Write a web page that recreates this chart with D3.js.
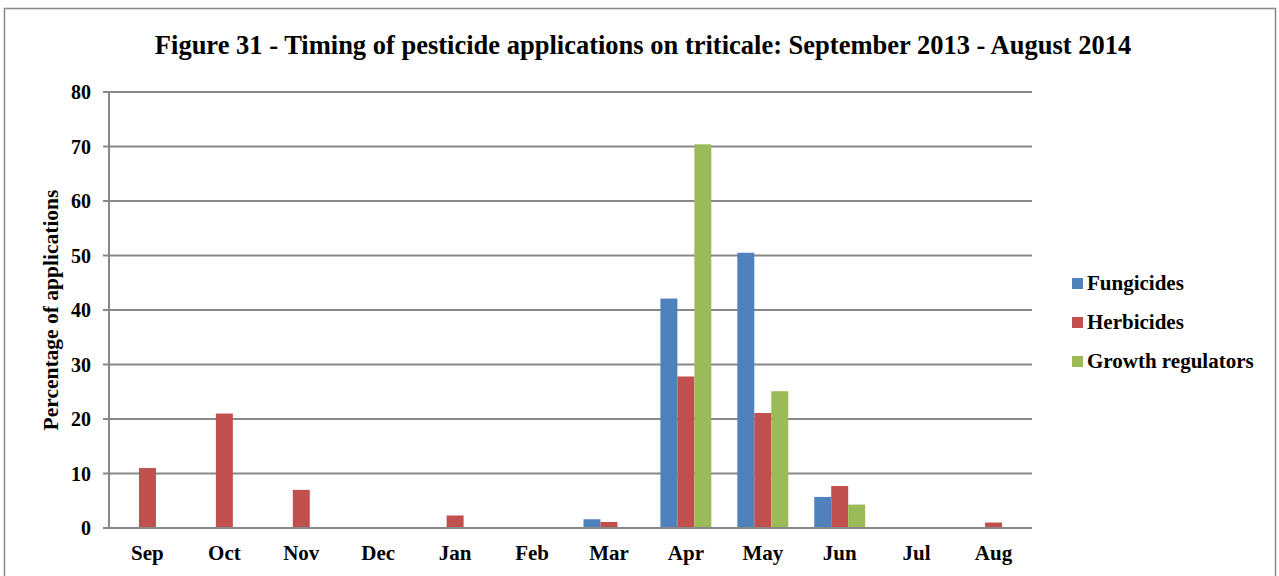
<!DOCTYPE html>
<html><head><meta charset="utf-8">
<script src="https://cdn.jsdelivr.net/npm/d3@7"></script>
<style>body{margin:0;background:#fff}svg{display:block}</style>
</head><body>
<svg id="c" width="1279" height="576"></svg>
<script>
const months = ["Sep","Oct","Nov","Dec","Jan","Feb","Mar","Apr","May","Jun","Jul","Aug"];
const seriesNames = ["Fungicides","Herbicides","Growth regulators"];
const fungicides = [0,0,0,0,0,0,1.6,42.1,50.5,5.7,0,0];
const herbicides = [11,21,7,0,2.3,0,1.1,27.8,21.1,7.7,0,1.0];
const growthRegulators = [0,0,0,0,0,0,0,70.4,25.1,4.3,0,0];
const yTicks = [0,10,20,30,40,50,60,70,80];
const colors = ["#4F81BD","#C0504D","#9BBB59"];
const title = "Figure 31 - Timing of pesticide applications on triticale: September 2013 - August 2014";
const yLabel = "Percentage of applications";

(function(){
const values = [fungicides, herbicides, growthRegulators];
const svg = d3.select("#c");
const font = "'Liberation Serif','Times New Roman',serif";

svg.append("rect").attr("x",4.5).attr("y",8.5).attr("width",1271).attr("height",600)
  .attr("fill","#fff").attr("stroke","#888").attr("stroke-width",1.5);

const pL = 109, pR = 1032, pT = 92, pB = 528;
const x = d3.scaleBand().domain(months).range([pL,pR]).paddingInner(0.338).paddingOuter(0.169);
const xs = d3.scaleBand().domain(seriesNames).range([0,x.bandwidth()]);
const y = d3.scaleLinear().domain([0,80]).range([pB,pT]);

svg.append("g").selectAll("line").data(yTicks).join("line")
  .attr("x1",pL-6).attr("x2",pR).attr("y1",d=>y(d)).attr("y2",d=>y(d))
  .attr("stroke","#888").attr("stroke-width",2);

const g = svg.append("g");
seriesNames.forEach((s,si)=>{
  g.append("g").selectAll("rect").data(months.map((m,i)=>({m,v:values[si][i]})).filter(d=>d.v>0)).join("rect")
    .attr("x",d=>x(d.m)+xs(s)).attr("width",xs.bandwidth())
    .attr("y",d=>y(d.v)).attr("height",d=>y(0)-y(d.v))
    .attr("fill",colors[si]);
});

svg.append("line").attr("x1",pL).attr("x2",pL).attr("y1",pT).attr("y2",pB)
  .attr("stroke","#888").attr("stroke-width",2);
svg.append("line").attr("x1",pL-6).attr("x2",pR).attr("y1",pB).attr("y2",pB)
  .attr("stroke","#888").attr("stroke-width",2);

svg.append("g").selectAll("text").data(yTicks).join("text")
  .attr("x",91).attr("y",d=>y(d)).attr("dy","0.35em").attr("text-anchor","end")
  .attr("font-family",font).attr("font-weight","bold").attr("font-size",20).text(d=>d);

svg.append("g").selectAll("text").data(months).join("text")
  .attr("x",d=>x(d)+x.bandwidth()/2).attr("y",560).attr("text-anchor","middle")
  .attr("font-family",font).attr("font-weight","bold").attr("font-size",21).text(d=>d);

svg.append("text").attr("transform","translate(58,310) rotate(-90)").attr("text-anchor","middle")
  .attr("font-family",font).attr("font-weight","bold").attr("font-size",21.5).text(yLabel);

svg.append("text").attr("x",643).attr("y",54).attr("text-anchor","middle")
  .attr("font-family",font).attr("font-weight","bold").attr("font-size",26.5).text(title);

const lg = svg.append("g");
seriesNames.forEach((s,i)=>{
  const cy = 283 + i*39;
  lg.append("rect").attr("x",1072).attr("y",cy-5).attr("width",11).attr("height",11).attr("fill",colors[i]);
  lg.append("text").attr("x",1087).attr("y",cy).attr("dy","0.35em")
    .attr("font-family",font).attr("font-weight","bold").attr("font-size",21).text(s);
});
})();
</script>
</body></html>
